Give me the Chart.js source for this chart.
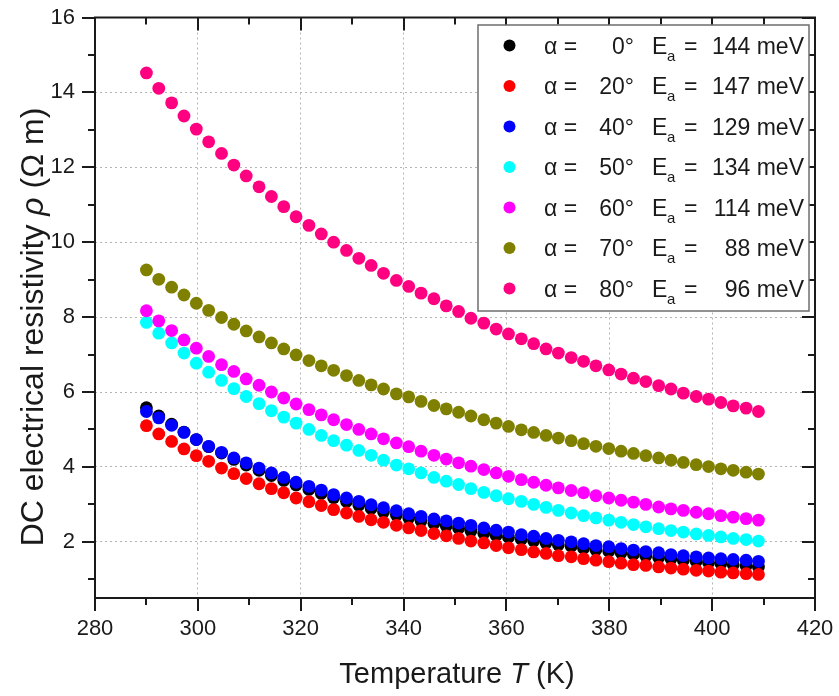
<!DOCTYPE html>
<html>
<head>
<meta charset="utf-8">
<script src="https://cdn.jsdelivr.net/npm/chart.js@4/dist/chart.umd.min.js"></script>
<style>
  html, body { margin: 0; padding: 0; background: #ffffff; }
  #wrap { width: 839px; height: 696px; }
</style>
</head>
<body>
<div id="wrap"><canvas id="c" width="839" height="696"></canvas></div>
<script>
// ---------------- data ----------------
const temperatureK = [290.0, 292.4, 294.9, 297.3, 299.7, 302.1, 304.6, 307.0, 309.4, 311.9,
  314.3, 316.7, 319.1, 321.6, 324.0, 326.4, 328.9, 331.3, 333.7, 336.1,
  338.6, 341.0, 343.4, 345.9, 348.3, 350.7, 353.1, 355.6, 358.0, 360.4,
  362.9, 365.3, 367.7, 370.1, 372.6, 375.0, 377.4, 379.9, 382.3, 384.7,
  387.1, 389.6, 392.0, 394.4, 396.9, 399.3, 401.7, 404.1, 406.6, 409.0];

const rhoAlpha0 = [5.58, 5.36, 5.14, 4.93, 4.73, 4.54, 4.37, 4.20, 4.05, 3.91,
  3.77, 3.64, 3.52, 3.40, 3.29, 3.18, 3.08, 2.98, 2.89, 2.80,
  2.72, 2.64, 2.56, 2.49, 2.42, 2.36, 2.29, 2.23, 2.17, 2.12,
  2.07, 2.02, 1.97, 1.92, 1.88, 1.83, 1.79, 1.75, 1.71, 1.67,
  1.62, 1.58, 1.55, 1.51, 1.48, 1.45, 1.42, 1.39, 1.36, 1.33];

const rhoAlpha20 = [5.10, 4.88, 4.68, 4.48, 4.30, 4.15, 3.97, 3.82, 3.69, 3.55,
  3.42, 3.31, 3.17, 3.07, 2.97, 2.86, 2.77, 2.68, 2.59, 2.52,
  2.44, 2.37, 2.30, 2.22, 2.16, 2.09, 2.02, 1.97, 1.90, 1.84,
  1.79, 1.73, 1.69, 1.63, 1.60, 1.55, 1.51, 1.47, 1.43, 1.39,
  1.37, 1.33, 1.30, 1.27, 1.24, 1.22, 1.19, 1.17, 1.15, 1.13];

const rhoAlpha40 = [5.48, 5.31, 5.11, 4.92, 4.73, 4.55, 4.39, 4.24, 4.11, 3.97,
  3.84, 3.72, 3.59, 3.48, 3.38, 3.26, 3.17, 3.08, 2.99, 2.91,
  2.83, 2.75, 2.68, 2.61, 2.56, 2.50, 2.44, 2.37, 2.31, 2.26,
  2.19, 2.15, 2.09, 2.04, 2.00, 1.95, 1.90, 1.87, 1.82, 1.78,
  1.74, 1.71, 1.66, 1.63, 1.60, 1.57, 1.55, 1.53, 1.51, 1.48];

const rhoAlpha50 = [7.86, 7.57, 7.31, 7.04, 6.77, 6.53, 6.31, 6.09, 5.88, 5.69,
  5.50, 5.33, 5.17, 5.00, 4.84, 4.70, 4.58, 4.44, 4.31, 4.18,
  4.05, 3.95, 3.84, 3.72, 3.62, 3.53, 3.42, 3.32, 3.23, 3.15,
  3.08, 3.00, 2.92, 2.84, 2.77, 2.70, 2.64, 2.58, 2.52, 2.46,
  2.40, 2.35, 2.30, 2.26, 2.21, 2.17, 2.13, 2.09, 2.06, 2.02];

const rhoAlpha60 = [8.17, 7.90, 7.64, 7.39, 7.17, 6.95, 6.73, 6.55, 6.35, 6.18,
  6.00, 5.84, 5.68, 5.53, 5.39, 5.26, 5.13, 5.00, 4.88, 4.75,
  4.64, 4.54, 4.42, 4.31, 4.21, 4.11, 4.02, 3.93, 3.84, 3.75,
  3.66, 3.59, 3.51, 3.44, 3.37, 3.31, 3.23, 3.17, 3.11, 3.06,
  3.00, 2.93, 2.88, 2.84, 2.79, 2.75, 2.70, 2.66, 2.62, 2.58];

const rhoAlpha70 = [9.26, 9.01, 8.80, 8.59, 8.37, 8.18, 7.99, 7.81, 7.63, 7.47,
  7.31, 7.15, 6.99, 6.84, 6.70, 6.58, 6.44, 6.31, 6.19, 6.08,
  5.95, 5.87, 5.75, 5.64, 5.55, 5.46, 5.36, 5.26, 5.17, 5.08,
  4.99, 4.92, 4.84, 4.77, 4.70, 4.62, 4.55, 4.49, 4.42, 4.36,
  4.30, 4.24, 4.18, 4.12, 4.06, 4.01, 3.95, 3.91, 3.86, 3.81];

const rhoAlpha80 = [14.52, 14.11, 13.72, 13.37, 13.02, 12.68, 12.37, 12.06, 11.77, 11.48,
  11.22, 10.95, 10.68, 10.45, 10.22, 10.00, 9.78, 9.57, 9.38, 9.17,
  8.98, 8.82, 8.64, 8.49, 8.30, 8.15, 7.97, 7.84, 7.68, 7.55,
  7.42, 7.29, 7.15, 7.04, 6.92, 6.82, 6.70, 6.59, 6.48, 6.37,
  6.28, 6.17, 6.08, 5.97, 5.88, 5.81, 5.72, 5.63, 5.57, 5.48];

const anglesDeg = [0, 20, 40, 50, 60, 70, 80];
const activationMeV = [144, 147, 129, 134, 114, 88, 96];

const xMajorTicks = [280, 300, 320, 340, 360, 380, 400, 420];
const xMinorTicks = [290, 310, 330, 350, 370, 390, 410];
const yMajorTicks = [2, 4, 6, 8, 10, 12, 14, 16];
const yMinorTicks = [1, 3, 5, 7, 9, 11, 13, 15];

// ---------------- styles ----------------
const seriesColors = ['#000000', '#ff0000', '#0000ff', '#00ffff', '#ff00ff', '#808000', '#ff0080'];
const FONT = '"Liberation Sans", Arial, Helvetica, sans-serif';
const seriesValues = [rhoAlpha0, rhoAlpha20, rhoAlpha40, rhoAlpha50, rhoAlpha60, rhoAlpha70, rhoAlpha80];

const datasets = seriesValues.map((vals, i) => ({
  label: 'alpha = ' + anglesDeg[i] + '°',
  data: temperatureK.map((t, k) => ({ x: t, y: vals[k] })),
  backgroundColor: seriesColors[i],
  borderColor: seriesColors[i],
  pointRadius: 6.4,
  pointHoverRadius: 6.4,
  pointBorderWidth: 0,
  showLine: false,
  order: 20 - i
}));

// ---------------- custom drawing: frame, ticks, titles, legend ----------------
const decorPlugin = {
  id: 'decor',
  afterDraw(chart) {
    const ctx = chart.ctx;
    const xs = chart.scales.x, ys = chart.scales.y;
    const a = chart.chartArea;
    ctx.save();
    // frame
    ctx.strokeStyle = '#1a1a1a';
    ctx.lineWidth = 2;
    ctx.strokeRect(a.left, a.top, a.right - a.left, a.bottom - a.top);
    // ticks
    const MAJ = 13, MIN = 7;
    ctx.lineWidth = 2;
    ctx.beginPath();
    xMajorTicks.concat(xMinorTicks).forEach(v => {
      const len = xMajorTicks.includes(v) ? MAJ : MIN;
      const px = Math.round(xs.getPixelForValue(v));
      ctx.moveTo(px, a.bottom); ctx.lineTo(px, a.bottom + len);
      ctx.moveTo(px, a.top); ctx.lineTo(px, a.top + len);
    });
    yMajorTicks.concat(yMinorTicks).forEach(v => {
      const len = yMajorTicks.includes(v) ? MAJ : MIN;
      const py = Math.round(ys.getPixelForValue(v));
      ctx.moveTo(a.left, py); ctx.lineTo(a.left - len, py);
      ctx.moveTo(a.right, py); ctx.lineTo(a.right - len, py);
    });
    ctx.stroke();

    // x axis title
    ctx.fillStyle = '#1a1a1a';
    ctx.textBaseline = 'alphabetic';
    const xt = [['Temperature ', 'normal'], ['T', 'italic'], [' (K)', 'normal']];
    drawRuns(ctx, xt, 29, (a.left + a.right) / 2 + 2, 683, 0);
    // y axis title
    const yt = [['DC electrical resistivity ', 'normal'], ['ρ', 'italic'], [' (Ω m)', 'normal']];
    drawRuns(ctx, yt, 32, 43, 327, -Math.PI / 2);

    // legend
    const L = { x: 478, y: 25, w: 331, h: 286 };
    ctx.fillStyle = '#ffffff';
    ctx.fillRect(L.x, L.y, L.w, L.h);
    ctx.strokeStyle = '#6e6e6e';
    ctx.lineWidth = 1.5;
    ctx.strokeRect(L.x, L.y, L.w, L.h);
    const rowY0 = 45.5, rowDY = 40.5;
    anglesDeg.forEach((ang, i) => {
      const cy = rowY0 + i * rowDY;
      ctx.fillStyle = seriesColors[i];
      ctx.beginPath(); ctx.arc(509.5, cy, 6, 0, Math.PI * 2); ctx.fill();
      ctx.fillStyle = '#1a1a1a';
      const base = cy + 8;
      ctx.font = '23px ' + FONT;
      ctx.textAlign = 'left';
      ctx.fillText('α =', 544, base);
      ctx.textAlign = 'right';
      ctx.fillText(ang + '°', 634, base);
      ctx.textAlign = 'left';
      ctx.fillText('E', 652, base);
      ctx.font = '15px ' + FONT;
      ctx.fillText('a', 667, base + 7);
      ctx.font = '23px ' + FONT;
      ctx.fillText('=', 684, base);
      ctx.textAlign = 'right';
      ctx.fillText(activationMeV[i] + ' meV', 804, base);
    });
    ctx.restore();
  }
};

function drawRuns(ctx, runs, size, cx, cy, rot) {
  let total = 0;
  runs.forEach(r => { ctx.font = r[1] + ' ' + size + 'px ' + FONT; total += ctx.measureText(r[0]).width; });
  ctx.save();
  ctx.translate(cx, cy);
  ctx.rotate(rot);
  ctx.textAlign = 'left';
  let x = -total / 2;
  runs.forEach(r => {
    ctx.font = r[1] + ' ' + size + 'px ' + FONT;
    ctx.fillText(r[0], x, 0);
    x += ctx.measureText(r[0]).width;
  });
  ctx.restore();
}

const gridColorX = c => (c.tick && (c.tick.value === 280 || c.tick.value === 420)) ? 'rgba(0,0,0,0)' : '#b4b4b4';
const gridColorY = c => (c.tick && (c.tick.value === 16)) ? 'rgba(0,0,0,0)' : '#b4b4b4';

new Chart(document.getElementById('c'), {
  type: 'scatter',
  data: { datasets },
  options: {
    responsive: false,
    devicePixelRatio: 1,
    animation: false,
    events: [],
    layout: { padding: { top: 17.5, right: 24, left: 0, bottom: 0 } },
    plugins: { legend: { display: false }, tooltip: { enabled: false } },
    scales: {
      x: {
        type: 'linear', min: 280, max: 420,
        afterBuildTicks: s => { s.ticks = xMajorTicks.map(v => ({ value: v })); },
        afterFit: s => { s.height = 98; s.paddingLeft = 0; s.paddingRight = 0; s.paddingTop = 0; s.paddingBottom = 0; },
        border: { display: false, dash: [2, 3] },
        grid: { color: gridColorX, lineWidth: 1, drawTicks: false },
        ticks: { color: '#1a1a1a', font: { family: FONT, size: 22 }, padding: 18, maxRotation: 0, autoSkip: false,
                 callback: v => String(v) },
        title: { display: false }
      },
      y: {
        type: 'linear', min: 0.5, max: 16,
        afterBuildTicks: s => { s.ticks = yMajorTicks.map(v => ({ value: v })); },
        afterFit: s => { s.width = 95; s.paddingLeft = 0; s.paddingRight = 0; s.paddingTop = 0; s.paddingBottom = 0; },
        border: { display: false, dash: [2, 3] },
        grid: { color: gridColorY, lineWidth: 1, drawTicks: false },
        ticks: { color: '#1a1a1a', font: { family: FONT, size: 22 }, padding: 20, autoSkip: false,
                 callback: v => String(v) },
        title: { display: false }
      }
    }
  },
  plugins: [decorPlugin]
});
</script>
</body>
</html>
